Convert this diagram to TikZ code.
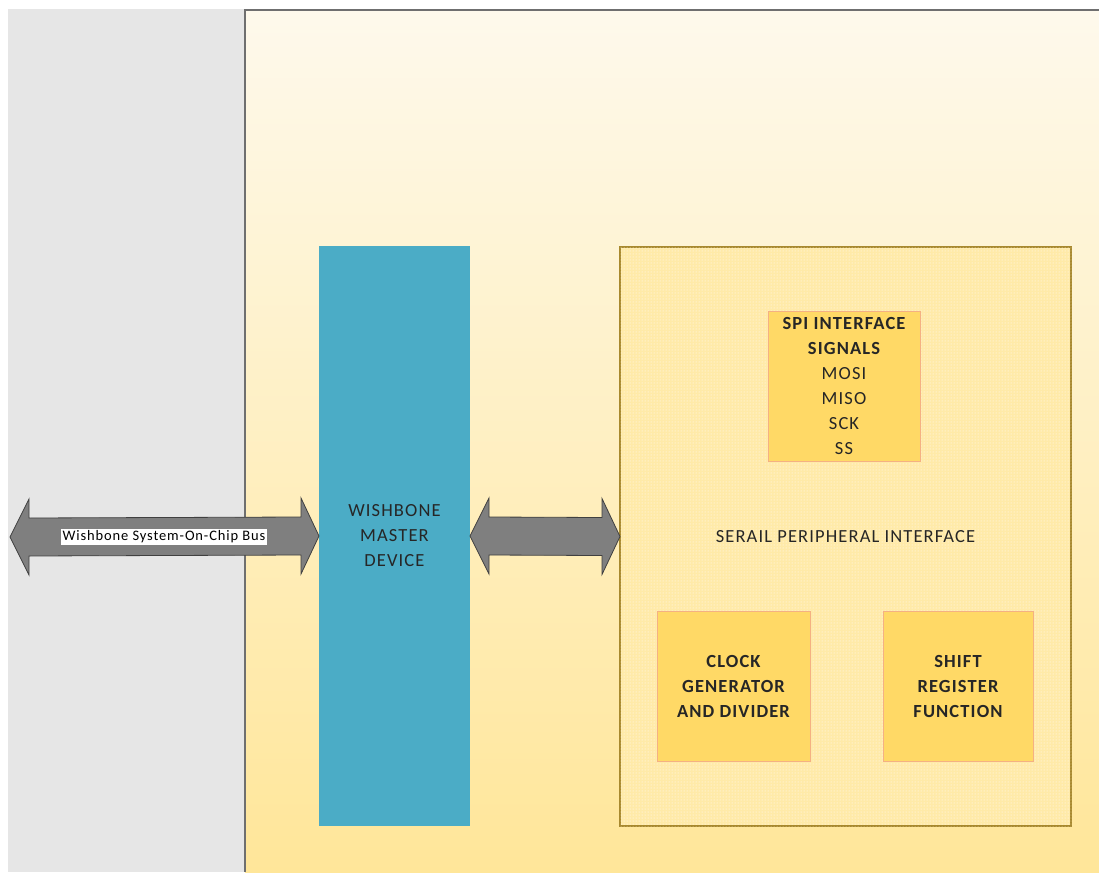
\documentclass[tikz,border=0pt]{standalone}
\usepackage{fontspec}
\setmainfont{Carlito}[LetterSpace=6]
\usepackage{xcolor}
\definecolor{fog}{HTML}{E6E6E6}
\definecolor{cream}{HTML}{FEF9EC}
\definecolor{butter}{HTML}{FFE699}
\definecolor{frame}{HTML}{6F6F6F}
\definecolor{aqua}{HTML}{4BACC6}
\definecolor{gold}{HTML}{FFD966}
\definecolor{peach}{HTML}{F4B183}
\definecolor{ochre}{HTML}{A8892E}
\definecolor{ash}{HTML}{7F7F7F}
\definecolor{ink}{HTML}{262626}
\usepackage{tikz}
\usetikzlibrary{patterns,calc}
\tikzset{
  font=\fontsize{18.5}{25}\selectfont,
  panel/.style={anchor=north west,inner sep=0pt,outer sep=0pt,align=center,text=ink},
  bar/.style={panel,fill=aqua},
  unit/.style={panel,fill=butter!85!white,draw=ochre,line width=1.6pt,
               postaction={pattern=dots,pattern color=white}},
  blk/.style={panel,fill=gold,draw=peach,line width=1pt,font=\fontsize{18.5}{25}\selectfont\bfseries},
  edge/.style={draw=frame,line width=2pt},
  bus/.style={fill=ash,draw=black!75,line width=0.8pt,line join=miter},
  lbl/.style={fill=white,inner sep=1.5pt,text=black,font=\fontsize{14.5}{16}\selectfont},
}

\begin{document}
\begin{tikzpicture}[x=1pt,y=-1pt]
  \useasboundingbox (0,0) rectangle (1099,872);
  % backdrop
  \node[panel,fill=fog,minimum width=237pt,minimum height=863pt] (soc) at (8,9) {};
  \node[panel,top color=cream,bottom color=butter,minimum width=854pt,minimum height=862pt] (chip) at (245,10) {};
  \draw[edge] (chip.south west) -- (chip.north west) -- (chip.north east);
  % blocks
  \node[bar,minimum width=151pt,minimum height=580pt] (wmd) at (319,246) {WISHBONE\\MASTER\\DEVICE};
  \node[unit,minimum width=451pt,minimum height=579pt] (spi) at (620,247) {SERAIL PERIPHERAL INTERFACE};
  \node[blk,minimum width=152pt,minimum height=150pt] (sig) at (768,311)
    {SPI INTERFACE\\SIGNALS\\\mdseries MOSI\\\mdseries MISO\\\mdseries SCK\\\mdseries SS};
  \node[blk,minimum width=153pt,minimum height=150pt] (clk) at (657,611) {CLOCK\\GENERATOR\\AND DIVIDER};
  \node[blk,minimum width=150pt,minimum height=150pt] (shf) at (883,611) {SHIFT\\REGISTER\\FUNCTION};
  % buses
  \coordinate (ext) at (10,537);
  \draw[bus] let \p1=(ext), \p2=(wmd.west) in
    (\x1,\y1) -- (\x1+19pt,\y1+38pt) -- (\x1+19pt,\y1+19pt) -- (\x2-18pt,\y2+19pt)
    -- (\x2-18pt,\y2+38pt) -- (\x2,\y2) -- (\x2-18pt,\y2-38pt) -- (\x2-18pt,\y2-19pt)
    -- (\x1+19pt,\y1-19pt) -- (\x1+19pt,\y1-38pt) -- cycle;
  \draw[bus] let \p1=(wmd.east), \p2=(spi.west) in
    (\x1,\y1) -- (\x1+19pt,\y1+38pt) -- (\x1+19pt,\y1+19pt) -- (\x2-18pt,\y2+19pt)
    -- (\x2-18pt,\y2+38pt) -- (\x2,\y2) -- (\x2-18pt,\y2-38pt) -- (\x2-18pt,\y2-19pt)
    -- (\x1+19pt,\y1-19pt) -- (\x1+19pt,\y1-38pt) -- cycle;
  \node[lbl] (wsb) at (164,537) {Wishbone System-On-Chip Bus};
\end{tikzpicture}
\end{document}
